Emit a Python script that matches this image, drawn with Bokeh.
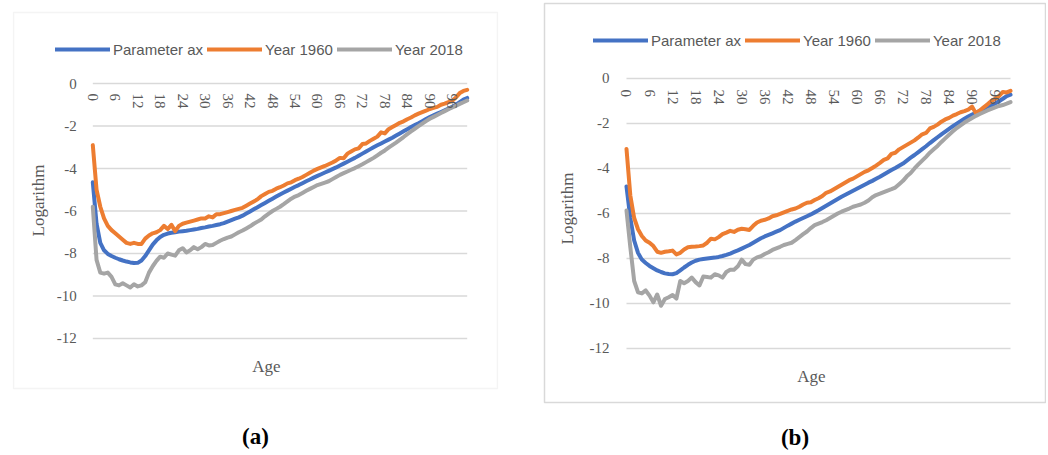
from bokeh.plotting import figure
from bokeh.models import (FixedTicker, LinearAxis, Range1d, Legend, LegendItem,
                          BoxAnnotation)
from bokeh.layouts import row
from bokeh.embed import file_html
from bokeh.resources import INLINE

ages = list(range(0, 101))
y_ticks = [-12, -10, -8, -6, -4, -2, 0]
x_ticks = list(range(0, 97, 6))
series_names = ["Parameter ax", "Year 1960", "Year 2018"]
series_colors = ["#4472C4", "#ED7D31", "#A5A5A5"]
captions = ["(a)", "(b)"]

# ---- panel (a) ----
a_ax = [-4.65, -6.6, -7.5, -7.85, -8.02, -8.12, -8.2, -8.27, -8.33, -8.38,
        -8.42, -8.45, -8.44, -8.33, -8.12, -7.85, -7.58, -7.38, -7.22, -7.12,
        -7.06, -7.02, -7.0, -6.97, -6.95, -6.93, -6.9, -6.87, -6.84, -6.8,
        -6.77, -6.73, -6.7, -6.66, -6.62, -6.57, -6.5, -6.43, -6.36, -6.3,
        -6.22, -6.12, -6.02, -5.92, -5.82, -5.72, -5.62, -5.52, -5.42, -5.32,
        -5.22, -5.13, -5.04, -4.95, -4.86, -4.78, -4.69, -4.6, -4.52, -4.43,
        -4.35, -4.27, -4.19, -4.11, -4.03, -3.95, -3.86, -3.77, -3.68, -3.59,
        -3.5, -3.4, -3.3, -3.2, -3.1, -3.0, -2.91, -2.82, -2.73, -2.64,
        -2.55, -2.45, -2.35, -2.25, -2.15, -2.05, -1.96, -1.87, -1.77, -1.67,
        -1.58, -1.5, -1.42, -1.34, -1.26, -1.18, -1.1, -1.0, -0.88, -0.76,
        -0.68]
a_1960 = [-2.9, -5.0, -5.8, -6.35, -6.7, -6.9, -7.05, -7.2, -7.35, -7.5,
          -7.55, -7.5, -7.55, -7.55, -7.3, -7.15, -7.05, -7.0, -6.9, -6.7,
          -6.85, -6.65, -6.95, -6.7, -6.6, -6.55, -6.5, -6.45, -6.4, -6.35,
          -6.35, -6.25, -6.3, -6.15, -6.15, -6.1, -6.05, -6.0, -5.95, -5.9,
          -5.85, -5.75, -5.65, -5.55, -5.45, -5.3, -5.2, -5.1, -5.05, -4.95,
          -4.88, -4.8, -4.7, -4.65, -4.55, -4.48, -4.4, -4.3, -4.2, -4.1,
          -4.02, -3.95, -3.88, -3.8, -3.72, -3.62, -3.5, -3.52, -3.3, -3.2,
          -3.1, -3.05, -2.85, -2.82, -2.7, -2.6, -2.5, -2.3, -2.35, -2.15,
          -2.05, -1.95, -1.85, -1.78, -1.68, -1.6, -1.5, -1.42, -1.35, -1.28,
          -1.2, -1.15, -1.1, -1.0, -0.95, -0.88, -0.82, -0.65, -0.45, -0.35,
          -0.3]
a_2018 = [-5.8, -8.3, -8.9, -8.95, -8.9, -9.1, -9.45, -9.5, -9.4, -9.5,
          -9.6, -9.45, -9.55, -9.5, -9.35, -8.9, -8.6, -8.35, -8.15, -8.2,
          -8.0, -8.05, -8.1, -7.85, -7.75, -7.95, -7.85, -7.7, -7.8, -7.7,
          -7.55, -7.62, -7.6, -7.5, -7.4, -7.32, -7.25, -7.2, -7.1, -7.0,
          -6.92, -6.82, -6.72, -6.6, -6.5, -6.4, -6.25, -6.12, -6.0, -5.9,
          -5.8, -5.68, -5.55, -5.42, -5.32, -5.25, -5.15, -5.05, -4.96, -4.87,
          -4.78, -4.72, -4.66, -4.6, -4.5, -4.4, -4.3, -4.22, -4.14, -4.06,
          -3.98, -3.89, -3.8, -3.7, -3.6, -3.5, -3.38, -3.26, -3.15, -3.02,
          -2.9, -2.78, -2.65, -2.52, -2.38, -2.25, -2.13, -2.01, -1.89, -1.77,
          -1.66, -1.57, -1.48, -1.39, -1.3, -1.21, -1.13, -1.05, -0.96, -0.88,
          -0.8]

# ---- panel (b) ----
b_ax = [-4.8, -6.2, -7.2, -7.75, -8.05, -8.2, -8.33, -8.43, -8.53, -8.6,
        -8.66, -8.69, -8.7, -8.65, -8.53, -8.4, -8.28, -8.18, -8.1, -8.05,
        -8.02, -8.0, -7.98, -7.96, -7.93, -7.89, -7.84, -7.78, -7.71, -7.64,
        -7.56, -7.48, -7.4, -7.3, -7.2, -7.1, -7.02, -6.95, -6.88, -6.81,
        -6.74, -6.64, -6.54, -6.45, -6.36, -6.28, -6.2, -6.12, -6.04, -5.95,
        -5.86, -5.76, -5.66, -5.56, -5.46, -5.36, -5.26, -5.17, -5.08, -4.99,
        -4.9, -4.81, -4.72, -4.63, -4.55, -4.46, -4.37, -4.27, -4.17, -4.07,
        -3.98, -3.88, -3.78, -3.65, -3.52, -3.4, -3.27, -3.14, -3.01, -2.87,
        -2.74, -2.61, -2.48, -2.36, -2.24, -2.12, -2.01, -1.9, -1.79, -1.69,
        -1.6, -1.52, -1.44, -1.36, -1.28, -1.2, -1.11, -1.01, -0.9, -0.78,
        -0.72]
b_1960 = [-3.13, -5.2, -6.2, -6.7, -7.0, -7.2, -7.3, -7.45, -7.7, -7.75,
          -7.7, -7.68, -7.65, -7.82, -7.75, -7.6, -7.5, -7.48, -7.47, -7.45,
          -7.42, -7.3, -7.12, -7.15, -7.05, -6.92, -6.85, -6.77, -6.82, -6.72,
          -6.68, -6.7, -6.73, -6.55, -6.4, -6.32, -6.28, -6.22, -6.12, -6.08,
          -6.02, -5.95, -5.88, -5.82, -5.78, -5.7, -5.6, -5.52, -5.5, -5.4,
          -5.32, -5.22, -5.08, -5.02, -4.92, -4.82, -4.72, -4.62, -4.52, -4.45,
          -4.35, -4.25, -4.15, -4.08, -3.98, -3.87, -3.75, -3.62, -3.55, -3.35,
          -3.3, -3.15, -3.05, -2.95, -2.85, -2.75, -2.62, -2.48, -2.42, -2.22,
          -2.15, -2.05, -1.92, -1.82, -1.75, -1.65, -1.58, -1.5, -1.45, -1.38,
          -1.25, -1.55, -1.42, -1.28, -1.15, -1.0, -0.9, -0.78, -0.6, -0.62,
          -0.55]
b_2018 = [-5.87, -7.5, -9.0, -9.5, -9.55, -9.42, -9.65, -9.95, -9.6, -10.1,
          -9.8, -9.72, -9.62, -9.78, -9.0, -9.1, -9.0, -8.85, -9.05, -9.2,
          -8.8, -8.82, -8.85, -8.7, -8.75, -8.85, -8.6, -8.5, -8.5, -8.35,
          -8.05, -8.25, -8.28, -8.05, -7.95, -7.9, -7.8, -7.72, -7.62, -7.55,
          -7.48, -7.4, -7.35, -7.3, -7.18, -7.05, -6.92, -6.8, -6.65, -6.52,
          -6.45, -6.38, -6.3, -6.2, -6.1, -6.0, -5.92, -5.85, -5.78, -5.7,
          -5.65, -5.6, -5.52, -5.42, -5.28, -5.18, -5.12, -5.05, -4.98, -4.92,
          -4.85, -4.7, -4.55, -4.35, -4.2, -4.0, -3.82, -3.65, -3.48, -3.3,
          -3.15, -3.0, -2.82, -2.66, -2.5, -2.35, -2.2, -2.08, -1.96, -1.86,
          -1.76, -1.66, -1.58, -1.5, -1.42, -1.35, -1.28, -1.22, -1.18, -1.12,
          -1.05]

TXT = "#595959"
BORDER = "#d9d9d9"
SERIF = "Liberation Serif"
SANS = "Liberation Sans"


def bare_axis(ax):
    ax.axis_line_color = None
    ax.major_tick_line_color = None
    ax.minor_tick_line_color = None
    ax.major_tick_out = 0
    ax.major_tick_in = 0
    ax.minor_tick_out = 0
    ax.minor_tick_in = 0


def make_panel(cfg, series, caption):
    p = figure(width=cfg["w"], height=cfg["h"], output_backend="svg",
               toolbar_location=None, title=None, x_range=Range1d(*cfg["xr"]),
               y_range=Range1d(*cfg["yr"]), x_axis_type=None, y_axis_type=None,
               min_border_left=cfg["bl"], min_border_right=cfg["br"],
               min_border_top=cfg["bt"], min_border_bottom=cfg["bb"])
    p.background_fill_color = "white"
    p.border_fill_color = "white"
    if cfg["box"] is None:
        # the frame is the chart's bordered box
        p.outline_line_color = BORDER
        p.outline_line_width = 1.5
    else:
        p.outline_line_color = None
        l, t, r_, b = cfg["box"]
        p.add_layout(BoxAnnotation(left=l, right=r_, top=t, bottom=b,
                                   left_units="canvas", right_units="canvas",
                                   top_units="canvas", bottom_units="canvas",
                                   fill_alpha=0, line_color=BORDER,
                                   line_width=1.5))

    # horizontal gridlines over the age span
    p.segment(x0=ages[0], x1=ages[-1], y0=y_ticks, y1=y_ticks,
              line_color=BORDER, line_width=1.3)

    # value axis (tick labels + title) fixed at age 0
    yaxis = LinearAxis(ticker=FixedTicker(ticks=y_ticks), fixed_location=ages[0],
                       major_label_overrides={t: str(t) for t in y_ticks},
                       axis_label="Logarithm", bounds=cfg["ybounds"])
    bare_axis(yaxis)
    yaxis.major_label_standoff = cfg["ylab_so"]
    yaxis.major_label_text_font = SERIF
    yaxis.major_label_text_font_size = "15px"
    yaxis.major_label_text_color = TXT
    yaxis.axis_label_standoff = cfg["ytitle_so"]
    yaxis.axis_label_text_font = SERIF
    yaxis.axis_label_text_font_size = "17px"
    yaxis.axis_label_text_font_style = "normal"
    yaxis.axis_label_text_color = TXT
    p.add_layout(yaxis, "left")

    # category tick labels along the 0 line
    xticks_axis = LinearAxis(ticker=FixedTicker(ticks=x_ticks), fixed_location=0,
                             major_label_overrides={t: str(t) for t in x_ticks})
    bare_axis(xticks_axis)
    xticks_axis.major_label_orientation = "vertical"
    xticks_axis.major_label_standoff = cfg["xlab_so"]
    xticks_axis.major_label_text_font = SERIF
    xticks_axis.major_label_text_font_size = "15px"
    xticks_axis.major_label_text_color = TXT
    p.add_layout(xticks_axis, "below")

    # axis title "Age" under the -12 line
    xtitle_axis = LinearAxis(ticker=FixedTicker(ticks=[]), axis_label="Age",
                             fixed_location=y_ticks[0], bounds=cfg["agebounds"])
    bare_axis(xtitle_axis)
    xtitle_axis.major_label_standoff = 0
    xtitle_axis.axis_label_standoff = cfg["xtitle_so"]
    xtitle_axis.axis_label_text_font = SERIF
    xtitle_axis.axis_label_text_font_size = "17px"
    xtitle_axis.axis_label_text_font_style = "normal"
    xtitle_axis.axis_label_text_color = TXT
    p.add_layout(xtitle_axis, "below")

    # panel caption below the box
    cap_axis = LinearAxis(ticker=FixedTicker(ticks=[]), axis_label=caption,
                          bounds=cfg["capbounds"])
    bare_axis(cap_axis)
    cap_axis.major_label_standoff = 0
    cap_axis.axis_label_standoff = cfg["cap_so"]
    cap_axis.axis_label_text_font = SERIF
    cap_axis.axis_label_text_font_size = "23px"
    cap_axis.axis_label_text_font_style = "bold"
    cap_axis.axis_label_text_color = "black"
    p.add_layout(cap_axis, "below")

    items = []
    for name, color, vals in zip(series_names, series_colors, series):
        r = p.line(x=ages, y=vals, line_color=color, line_width=4,
                   line_join="round", line_cap="round")
        items.append(LegendItem(label=name, renderers=[r]))

    legend = Legend(items=items, orientation="horizontal", location=cfg["leg"],
                    glyph_width=55, glyph_height=20, label_height=20,
                    label_standoff=3, spacing=4, padding=0, margin=0,
                    border_line_color=None, background_fill_alpha=0,
                    label_text_font=SANS, label_text_font_size="15px",
                    label_text_color=TXT)
    p.add_layout(legend, "center")
    return p


# both frames span canvas y 3..402 (plots in a row share frame edges)
cfg_a = dict(w=524, h=454, bl=12, br=26, bt=3, bb=52,
             xr=(-21.45, 108.36), yr=(-15.012, 3.765),
             box=(13, 12, 497, 388),
             ybounds=(-12, 1), agebounds=(0, 92.8), capbounds=(0, 86.9),
             ylab_so=16, ytitle_so=6, xlab_so=10, xtitle_so=18, cap_so=21,
             leg=(43, 343))
cfg_b = dict(w=522, h=454, bl=20, br=1, bt=3, bb=52,
             xr=(-21.35, 109.11), yr=(-14.4, 3.333),
             box=None,
             ybounds=(-12, 0.45), agebounds=(0, 96.4), capbounds=(0, 87.5),
             ylab_so=17, ytitle_so=10, xlab_so=11, xtitle_so=18, cap_so=22,
             leg=(49, 352))

pa = make_panel(cfg_a, [a_ax, a_1960, a_2018], captions[0])
pb = make_panel(cfg_b, [b_ax, b_1960, b_2018], captions[1])

layout = row(pa, pb)
open("out.html", "w").write(file_html(layout, INLINE))
